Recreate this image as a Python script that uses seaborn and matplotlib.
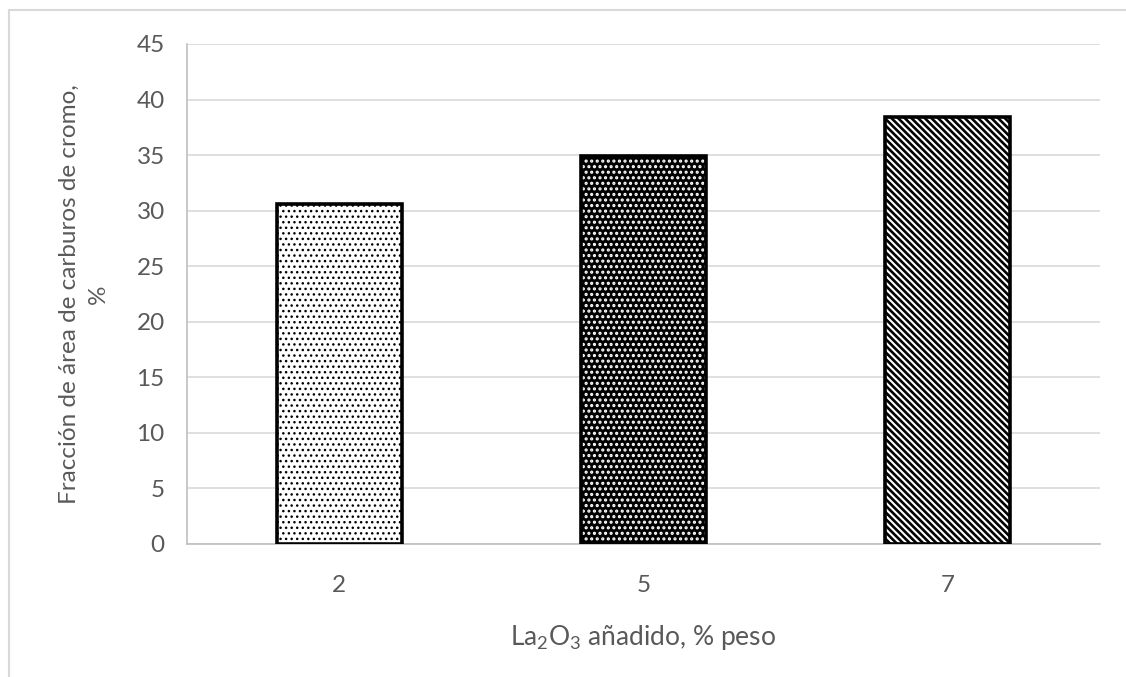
import matplotlib
matplotlib.use("Agg")
import matplotlib.pyplot as plt
import seaborn as sns
import pandas as pd
from matplotlib.patches import Rectangle
from matplotlib.lines import Line2D

# Data
categories = ["2", "5", "7"]
values = [30.6, 34.9, 38.4]
y_ticks = [0, 5, 10, 15, 20, 25, 30, 35, 40, 45]
x_label = r"$\mathregular{La_2O_3}$ añadido, % peso"
y_label = "Fracción de área de carburos de cromo,\n%"

sns.set_theme(style="white")
plt.rcParams["font.family"] = ["Lato", "DejaVu Sans"]
plt.rcParams["hatch.linewidth"] = 1.9
plt.rcParams["mathtext.fontset"] = "custom"
plt.rcParams["mathtext.rm"] = "Lato"

TEXT = "#595959"
GRID = "#d9d9d9"
FS = 17.5

fig = plt.figure(figsize=(11.26, 6.77), dpi=100)
ax = fig.add_axes([187 / 1126, 1 - 544 / 677, (1100 - 187) / 1126, (544 - 44) / 677])

df = pd.DataFrame({"cat": categories, "val": values})
sns.barplot(data=df, x="cat", y="val", color="white", width=0.41,
            edgecolor="black", linewidth=0, ax=ax, zorder=2)

fills = [("white", "black", "...", 1.0), ("black", "white", "...", 1.5),
         ("white", "black", "\\\\\\\\\\", 1.9)]
for p, (fc, hc, h, hlw) in zip(ax.patches, fills):
    p.set_facecolor(fc)
    p.set_edgecolor(hc)
    p.set_hatch(h)
    if hasattr(p, "set_hatch_linewidth"):
        p.set_hatch_linewidth(hlw)
    p.set_linewidth(0)
    outline = Rectangle((p.get_x(), p.get_y()), p.get_width(), p.get_height(),
                        facecolor="none", edgecolor="black", linewidth=2.6, zorder=3)
    ax.add_patch(outline)

ax.set_xlim(-0.5, 2.5)
ax.set_ylim(0, 45)
ax.set_yticks(y_ticks)
ax.yaxis.grid(True, color=GRID, linewidth=1.2, zorder=0)
ax.set_axisbelow(True)
for s in ["top", "right"]:
    ax.spines[s].set_visible(False)
for s in ["left", "bottom"]:
    ax.spines[s].set_color("#bfbfbf")
    ax.spines[s].set_linewidth(1.2)
ax.tick_params(axis="both", length=0, labelsize=FS, labelcolor=TEXT)
ax.tick_params(axis="y", pad=16)
ax.tick_params(axis="x", pad=22)
ax.set_xlabel(x_label, fontsize=19, color=TEXT, labelpad=20)
ax.set_ylabel(y_label, fontsize=FS, color=TEXT, labelpad=20, linespacing=1.45)

# chart-area border (top and left visible)
fig.add_artist(Line2D([9 / 1126, 9 / 1126], [0, 1 - 10 / 677], transform=fig.transFigure,
                      color=GRID, linewidth=1.5))
fig.add_artist(Line2D([9 / 1126, 1], [1 - 10 / 677, 1 - 10 / 677], transform=fig.transFigure,
                      color=GRID, linewidth=1.5))

fig.savefig("out.png", dpi=100, facecolor="white")
